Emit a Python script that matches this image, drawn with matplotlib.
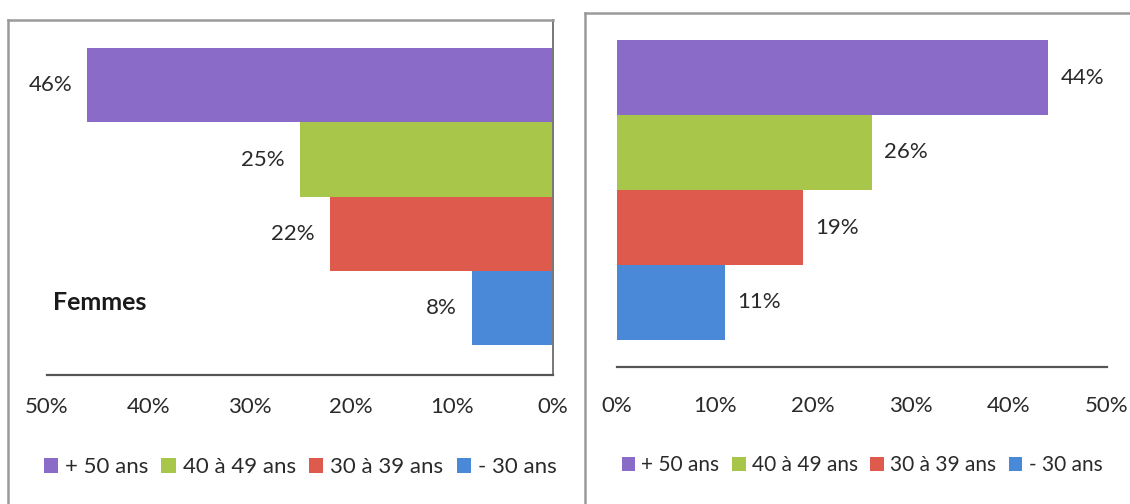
import matplotlib
matplotlib.use("Agg")
import matplotlib.pyplot as plt
from matplotlib.lines import Line2D
from matplotlib.patches import Patch

plt.rcParams['font.family'] = ['Lato', 'DejaVu Sans']

categories = ["+ 50 ans", "40 à 49 ans", "30 à 39 ans", "- 30 ans"]
femmes = [46, 25, 22, 8]
hommes = [44, 26, 19, 11]
ticks = [0, 10, 20, 30, 40, 50]
tick_labels = [f"{t}%" for t in ticks]
colors = ["#8A6CC8", "#A8C64A", "#DE5A4C", "#4A88D8"]

W, H = 1130, 504
fig = plt.figure(figsize=(W / 100, H / 100), dpi=100)

def fx(px):
    return px / W

def fy(py):
    return 1 - py / H

# panel frames (decoration)
frame_kw = dict(color="#9a9a9a", lw=1.8, transform=fig.transFigure)
fig.add_artist(Line2D([fx(8), fx(8)], [fy(20), fy(504)], **frame_kw))
fig.add_artist(Line2D([fx(8), fx(553)], [fy(20), fy(20)], **frame_kw))
fig.add_artist(Line2D([fx(585), fx(585)], [fy(13), fy(504)], **frame_kw))
fig.add_artist(Line2D([fx(585), fx(1130)], [fy(13), fy(13)], **frame_kw))

ypos = [3, 2, 1, 0]

# Left panel (Femmes)
axL = fig.add_axes([fx(47), fy(375), fx(553 - 47), (375 - 20) / H])
for y, v, c, lab in zip(ypos, femmes, colors, categories):
    axL.barh(y, v, height=1.0, color=c, label=lab)
    axL.annotate(f"{v}%", (v, y), xytext=(-11, 0), textcoords="offset points",
                 ha="right", va="center", fontsize=16, color="#2a2a2a")
axL.set_xlim(50, 0)
axL.set_ylim(-0.90, 3.88)
axL.set_xticks(ticks)
axL.set_xticklabels(tick_labels, fontsize=16, color="#2a2a2a")
axL.set_yticks([])
axL.tick_params(axis="x", length=0, pad=16)
for s in ["top", "left"]:
    axL.spines[s].set_visible(False)
axL.spines["bottom"].set_color("#555555")
axL.spines["bottom"].set_linewidth(1.6)
axL.spines["right"].set_color("#777777")
axL.spines["right"].set_linewidth(1.4)
fig.text(fx(53), fy(302), "Femmes", fontsize=18, fontweight="bold",
         ha="left", va="center", color="#1a1a1a")

# Right panel
axR = fig.add_axes([fx(617), fy(367), fx(1107 - 617), (367 - 13) / H])
for y, v, c, lab in zip(ypos, hommes, colors, categories):
    axR.barh(y, v, height=1.0, color=c, label=lab)
    axR.annotate(f"{v}%", (v, y), xytext=(9, 0), textcoords="offset points",
                 ha="left", va="center", fontsize=16, color="#2a2a2a")
axR.set_xlim(0, 50)
axR.set_ylim(-0.86, 3.86)
axR.set_xticks(ticks)
axR.set_xticklabels(tick_labels, fontsize=16, color="#2a2a2a")
axR.set_yticks([])
axR.tick_params(axis="x", length=0, pad=21)
for s in ["top", "left", "right"]:
    axR.spines[s].set_visible(False)
axR.spines["bottom"].set_color("#555555")
axR.spines["bottom"].set_linewidth(1.6)

# Legends
handles = [Patch(facecolor=c, edgecolor="none") for c in colors]
leg_kw = dict(ncol=4, frameon=False, handlelength=0.65, handleheight=0.65,
              handletextpad=0.3, columnspacing=0.6, labelcolor="#2a2a2a",
              loc="center")
axL.legend(handles, categories, bbox_to_anchor=(0.5, (375 - 467) / (375 - 20)),
           bbox_transform=axL.transAxes, fontsize=16, **leg_kw)
axR.legend(handles, categories, bbox_to_anchor=(0.5, (367 - 465) / (367 - 13)),
           bbox_transform=axR.transAxes, fontsize=15, **leg_kw)

fig.savefig("out.png", dpi=100)
